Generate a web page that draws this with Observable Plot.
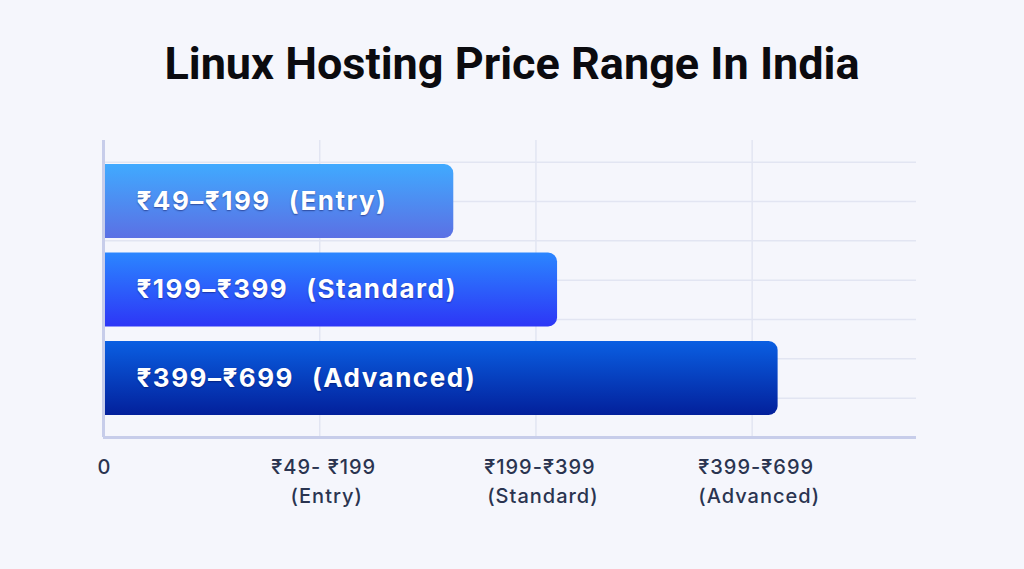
<!DOCTYPE html>
<html>
<head>
<meta charset="utf-8">
<script src="https://cdn.jsdelivr.net/npm/d3@7"></script>
<script src="https://cdn.jsdelivr.net/npm/@observablehq/plot@0.6"></script>
<style>
  html, body { margin: 0; padding: 0; background: #f5f6fc; }
  #title {
    height: 120px; box-sizing: border-box; padding-top: 41px;
    text-align: center; font-family: Roboto, "Noto Sans", sans-serif;
    font-weight: 700; font-size: 45px; line-height: 46px; color: #0b0b0f;
  }
  #chart svg { display: block; }
</style>
</head>
<body>
<div id="title">Linux Hosting Price Range In India</div>
<div id="chart"></div>
<script>
// ---- data ----
const tiers = ["Entry", "Standard", "Advanced"];
const priceRanges = ["₹49–₹199", "₹199–₹399", "₹399–₹699"];
const barLengths = [1.62, 2.10, 3.12];
const tickPositions = [0, 1, 2, 3];
const tickLine1 = ["0", "₹49- ₹199", "₹199-₹399", "₹399-₹699"];
const tickLine2 = ["", "(Entry)", "(Standard)", "(Advanced)"];
const gridRows = [1, 2, 3, 4, 5, 6, 7];
const gridCols = [1, 2, 3];
const barGradients = [["#40aaff", "#5b70e4"], ["#2b86ff", "#2d36f6"], ["#0a5fe2", "#03209b"]];

const rows = tiers.map((t, i) => ({
  tier: t,
  value: barLengths[i],
  center: 6 - 2.25 * i,
  label: `${priceRanges[i]}\u2002\u200A(${t})`
}));
const ticks = tickPositions.map((p, i) => ({pos: p, a: tickLine1[i], b: tickLine2[i]}));
const zeroTick = ticks.filter(d => d.pos === 0);
const catTicks = ticks.filter(d => d.pos !== 0);

const font = "Inter, 'Noto Sans', sans-serif";
const half = 0.94;
const tickStyle = {fill: "#2a3450", fontSize: 20, fontWeight: 500, className: "ticklabel"};

const svg = Plot.plot({
  width: 1024,
  height: 449,
  marginTop: 20,
  marginBottom: 132,
  marginLeft: 103,
  marginRight: 108,
  style: {background: "transparent", fontFamily: font, overflow: "visible"},
  x: {domain: [0, 3.76], axis: null},
  y: {domain: [0, 7.55], axis: null},
  marks: [
    Plot.ruleY(gridRows, {stroke: "#e2e5f2", strokeWidth: 1.5}),
    Plot.ruleX(gridCols, {stroke: "#e2e5f2", strokeWidth: 1.5}),
    ...rows.map((r, i) => Plot.rectX([r], {
      x1: -0.06, x2: "value",
      y1: d => d.center - half, y2: d => d.center + half,
      fill: `url(#barGrad${i})`, rx: 9, clip: true
    })),
    Plot.ruleX([0], {stroke: "#c7cdea", strokeWidth: 3}),
    Plot.ruleY([0], {stroke: "#c7cdea", strokeWidth: 3}),
    Plot.text(rows, {
      x: 0, y: "center", text: "label", dx: 33, textAnchor: "start",
      fill: "white", fontSize: 26, fontWeight: 700, className: "barlabel"
    }),
    Plot.text(zeroTick, {x: "pos", y: 0, text: "a", dy: 30, dx: 1, ...tickStyle}),
    Plot.text(catTicks, {x: "pos", y: 0, text: "a", dy: 30, dx: 4, ...tickStyle}),
    Plot.text(catTicks, {x: "pos", y: 0, text: "b", dy: 59, dx: 7, ...tickStyle})
  ]
});

const defs = d3.select(svg).insert("defs", ":first-child");
barGradients.forEach((stops, i) => {
  const g = defs.append("linearGradient").attr("id", `barGrad${i}`)
    .attr("x1", 0).attr("y1", 0).attr("x2", 0).attr("y2", 1);
  g.append("stop").attr("offset", "0%").attr("stop-color", stops[0]);
  g.append("stop").attr("offset", "100%").attr("stop-color", stops[1]);
});
d3.select(svg).selectAll(".barlabel text")
  .style("text-shadow", "0 1px 1.5px rgba(0,0,60,0.45)")
  .style("letter-spacing", "1.5px");
d3.select(svg).selectAll(".ticklabel text").style("letter-spacing", "1px");

document.getElementById("chart").appendChild(svg);
</script>
</body>
</html>
